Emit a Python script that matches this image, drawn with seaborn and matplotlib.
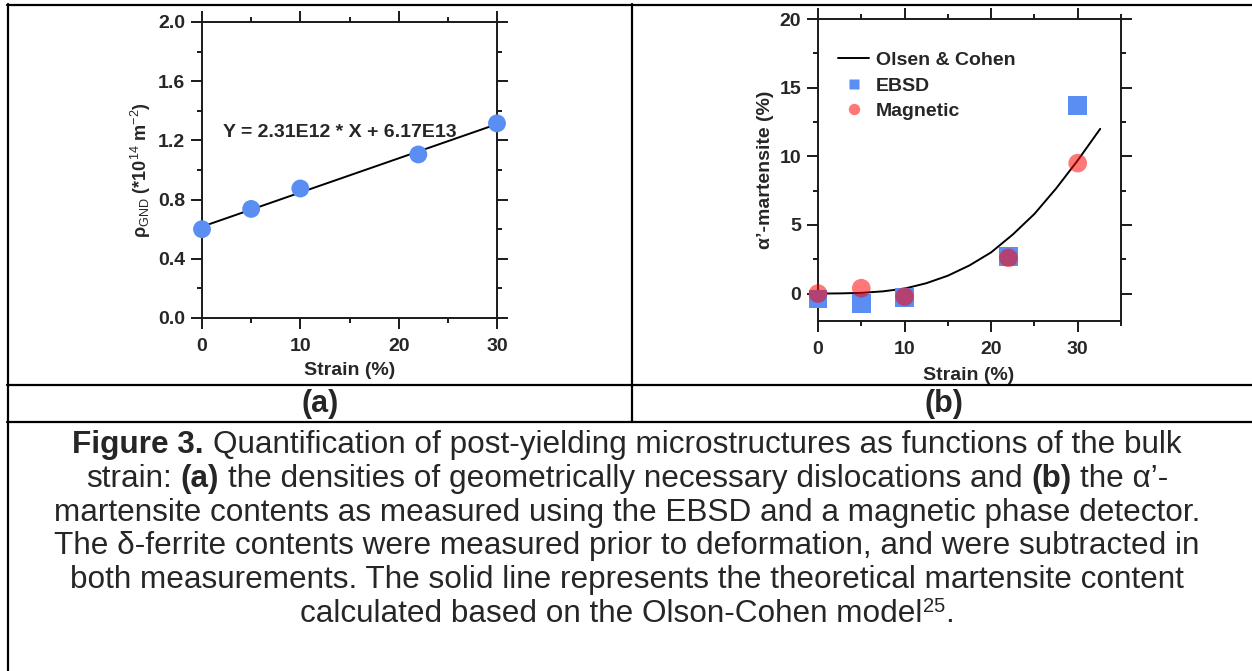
import matplotlib
matplotlib.use("Agg")
import matplotlib.pyplot as plt
import seaborn as sns
from matplotlib.ticker import MultipleLocator
from matplotlib.lines import Line2D

# ---------------- data ----------------
# panel (a)
strain_a = [0, 5, 10, 22, 30]
rho_gnd = [0.600, 0.737, 0.875, 1.105, 1.315]
fit_x = [0, 30]
fit_y = [0.617, 1.310]
fit_label = "Y = 2.31E12 * X + 6.17E13"

# panel (b)
strain_b = [0, 5, 10, 22, 30]
ebsd = [-0.39, -0.71, -0.29, 2.70, 13.7]
magnetic = [0.00, 0.39, -0.22, 2.60, 9.50]
oc_x = [0, 2.5, 5, 7.5, 10, 12.5, 15, 17.5, 20, 22.5, 25, 27.5, 30, 32.6]
oc_y = [0, 0.01, 0.05, 0.16, 0.36, 0.75, 1.30, 2.05, 3.00, 4.30, 5.80, 7.65, 9.70, 12.0]

legend_labels = ["Olsen & Cohen", "EBSD", "Magnetic"]
x_ticks = [0, 10, 20, 30]
a_yticks = [0.0, 0.4, 0.8, 1.2, 1.6, 2.0]
b_yticks = [0, 5, 10, 15, 20]

# caption: runs of (text, kind) where kind is "b" bold, "n" normal, "s" superscript
caption_runs = [
    [("Figure 3.", "b"), (" Quantification of post-yielding microstructures as functions of the bulk", "n")],
    [("strain: ", "n"), ("(a)", "b"), (" the densities of geometrically necessary dislocations and ", "n"),
     ("(b)", "b"), (" the α’-", "n")],
    [("martensite contents as measured using the EBSD and a magnetic phase detector.", "n")],
    [("The δ-ferrite contents were measured prior to deformation, and were subtracted in", "n")],
    [("both measurements. The solid line represents the theoretical martensite content", "n")],
    [("calculated based on the Olson-Cohen model", "n"), ("25", "s"), (".", "n")],
]

# ---------------- style ----------------
BLUE = "#5A8EF2"
RED = "#FF0000"
W, H = 1252, 671

sns.set_style("ticks")
plt.rcParams["font.family"] = ["Liberation Sans", "DejaVu Sans"]
plt.rcParams["mathtext.fontset"] = "custom"
plt.rcParams["mathtext.rm"] = "Liberation Sans"
plt.rcParams["mathtext.it"] = "Liberation Sans:italic"
plt.rcParams["mathtext.bf"] = "Liberation Sans:bold"

fig = plt.figure(figsize=(W / 100, H / 100), dpi=100)
fig.patch.set_facecolor("white")


def fx(x):
    return x / W


def fy(y):
    return 1 - y / H


def axes_px(l, t, r, b):
    return fig.add_axes([fx(l), fy(b), (r - l) / W, (b - t) / H])


def style(ax):
    ax.set_facecolor("white")
    for s in ax.spines.values():
        s.set_visible(True)
        s.set_linewidth(1.4)
        s.set_color("#1a1a1a")
    ax.tick_params(which="both", direction="out", top=True, right=True,
                   labeltop=False, labelright=False, width=1.4, color="#1a1a1a",
                   labelsize=14)
    ax.tick_params(which="major", length=8.0)
    ax.tick_params(which="minor", length=3.9)
    ax.tick_params(axis="x", pad=6.5)
    ax.tick_params(axis="y", pad=4)
    for lab in ax.get_xticklabels() + ax.get_yticklabels():
        lab.set_fontweight("bold")


# ---------------- panel (a) ----------------
ax1 = axes_px(202, 22, 497, 318)
sns.lineplot(x=fit_x, y=fit_y, color="black", lw=1.4, ax=ax1, zorder=2)
sns.scatterplot(x=strain_a, y=rho_gnd, s=165, color=BLUE, edgecolor="none",
                linewidth=0, ax=ax1, zorder=3, clip_on=False)
ax1.set_xlim(0, 30)
ax1.set_ylim(0, 2.0)
ax1.set_xticks(x_ticks)
ax1.set_yticks(a_yticks)
ax1.set_yticklabels([f"{v:.1f}" for v in a_yticks])
ax1.xaxis.set_minor_locator(MultipleLocator(5))
ax1.yaxis.set_minor_locator(MultipleLocator(0.2))
style(ax1)
ax1.text(2.14, 1.221, fit_label, fontsize=14, fontweight="bold",
         ha="left", va="baseline", zorder=4)
ax1.set_xlabel("Strain (%)", fontsize=14, fontweight="bold", va="center", ha="center")
ax1.xaxis.set_label_coords(0.5, -0.179)
ax1.set_ylabel(r"ρ$_{\mathrm{GND}}$ (*10$^{\mathrm{14}}$ m$^{\mathrm{-2}}$)", fontsize=13,
               fontweight="bold", va="center", ha="center")
ax1.yaxis.set_label_coords(-0.207, 0.5)

# ---------------- panel (b) ----------------
ax2 = axes_px(818, 19, 1121, 321)
sns.lineplot(x=oc_x, y=oc_y, color="black", lw=1.4, sort=False, estimator=None,
             ax=ax2, zorder=2)
sns.scatterplot(x=strain_b, y=ebsd, marker="s", s=180, color=BLUE, edgecolor="none",
                linewidth=0, ax=ax2, zorder=3, clip_on=False)
sns.scatterplot(x=strain_b, y=magnetic, marker="o", s=180, color=RED, alpha=0.53,
                edgecolor="none", linewidth=0, ax=ax2, zorder=4, clip_on=False)
ax2.set_xlim(0, 35)
ax2.set_ylim(-2, 20)
ax2.set_xticks(x_ticks)
ax2.set_yticks(b_yticks)
ax2.xaxis.set_minor_locator(MultipleLocator(5))
ax2.yaxis.set_minor_locator(MultipleLocator(2.5))
style(ax2)
ax2.set_xlabel("Strain (%)", fontsize=14, fontweight="bold", va="center", ha="center")
ax2.xaxis.set_label_coords(0.498, -0.179)
ax2.set_ylabel("α’-martensite (%)", fontsize=14, fontweight="bold", va="center", ha="center")
ax2.yaxis.set_label_coords(-0.173, 0.5)

handles = [
    Line2D([], [], color="black", lw=1.4),
    Line2D([], [], marker="s", ls="none", color=BLUE, markersize=7.8, mec="none"),
    Line2D([], [], marker="o", ls="none", color=RED, alpha=0.53, markersize=8.2, mec="none"),
]
ax2.legend(handles, legend_labels, loc="upper left", bbox_to_anchor=(0.066, 0.893),
           frameon=False, borderpad=0, borderaxespad=0, handlelength=1.6,
           handletextpad=0.35, labelspacing=0.41,
           prop={"size": 14, "weight": "bold"})

# ---------------- table lines & labels ----------------
def hline(y, x0, x1):
    fig.add_artist(Line2D([fx(x0), fx(x1)], [fy(y), fy(y)], transform=fig.transFigure,
                          color="black", lw=1.6))


def vline(x, y0, y1):
    fig.add_artist(Line2D([fx(x), fx(x)], [fy(y0), fy(y1)], transform=fig.transFigure,
                          color="black", lw=1.6))


hline(5, 7, W)
hline(385, 7, W)
hline(422, 7, W)
vline(8, 4, H)
vline(632, 4, 422)

fig.text(fx(320), fy(404), "(a)", fontsize=22, fontweight="bold", ha="center", va="center")
fig.text(fx(944), fy(404), "(b)", fontsize=22, fontweight="bold", ha="center", va="center")

# ---------------- caption (mixed weights) ----------------
renderer = fig.canvas.get_renderer()
CAP = 22.7
SUP = 14.5


def run_props(kind):
    if kind == "b":
        return dict(fontsize=CAP, fontweight="bold")
    if kind == "s":
        return dict(fontsize=SUP, fontweight="normal")
    return dict(fontsize=CAP, fontweight="normal")


def ink_width(s, props):
    if not s:
        return 0.0
    t = fig.text(0, 0, s, **props)
    w = t.get_window_extent(renderer).width
    t.remove()
    return w


def space_width(props):
    return ink_width("x x", props) - ink_width("xx", props)


def measure(s, props):
    core = s.strip(" ")
    lead = len(s) - len(s.lstrip(" "))
    trail = len(s) - len(s.rstrip(" "))
    sw = space_width(props)
    return lead * sw, ink_width(core, props), trail * sw, core


base0 = 453.5
step = 33.6
cx = 627
for i, runs in enumerate(caption_runs):
    parts = []
    total = 0.0
    for text, kind in runs:
        props = run_props(kind)
        lead, w, trail, core = measure(text, props)
        parts.append((lead, w, trail, core, props, kind))
        total += lead + w + trail
    x = cx - total / 2
    yb = base0 + i * step
    for lead, w, trail, core, props, kind in parts:
        x += lead
        y = yb - 10 if kind == "s" else yb
        fig.text(fx(x), fy(y), core, ha="left", va="baseline", **props)
        x += w + trail

fig.savefig("out.png", dpi=100, facecolor="white")
